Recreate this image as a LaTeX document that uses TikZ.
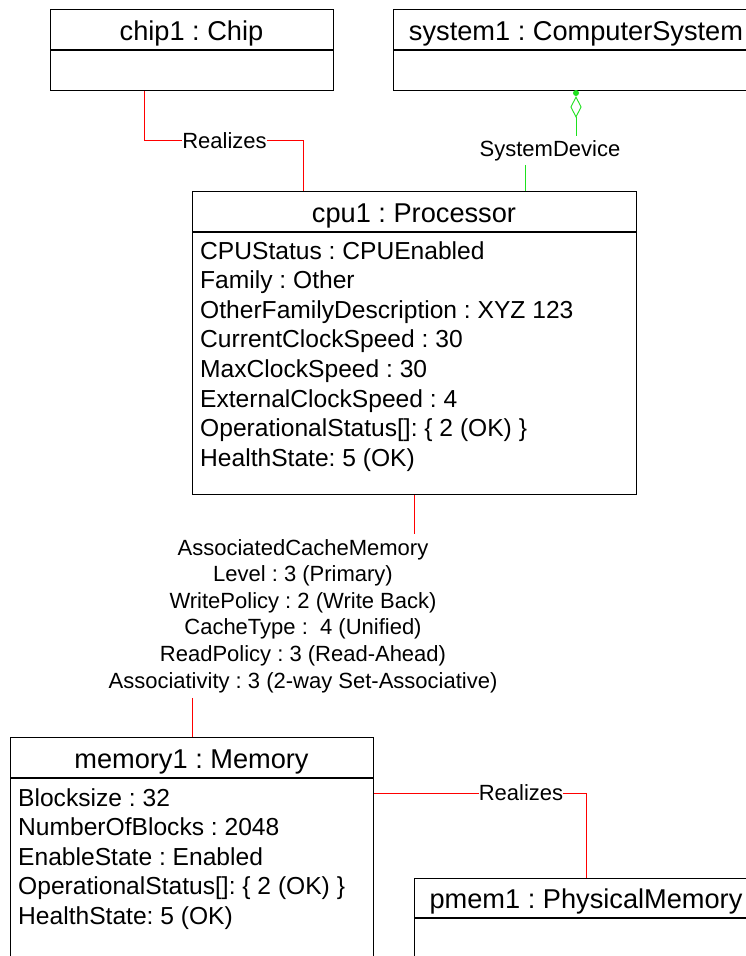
\documentclass[tikz,border=0pt]{standalone}
\usepackage{fontspec}
\setmainfont{Liberation Sans}
\usetikzlibrary{shapes.geometric}
\definecolor{linkred}{RGB}{255,0,0}
\definecolor{linkgreen}{RGB}{30,225,30}
\frenchspacing
\begin{document}
\begin{tikzpicture}[x=1pt,y=-1pt,
  box/.style={draw, line width=1.3pt, rectangle, anchor=north west, inner sep=0pt},
  divider/.style={line width=1.3pt},
  title/.style={font=\fontsize{27.2}{30}\selectfont, anchor=base, inner sep=0pt},
  attr/.style={font=\fontsize{24.6}{29}\selectfont, anchor=base west, inner sep=0pt},
  lbl/.style={font=\fontsize{22}{26.6}\selectfont, inner sep=0pt},
  realize/.style={draw=linkred, line width=1pt},
  sysdev/.style={draw=linkgreen, line width=1pt}]

\useasboundingbox (0,0) rectangle (746,956);
\clip (0,0) rectangle (746,956);

% chip1 : Chip
\node[box, minimum width=283pt, minimum height=81pt] (chip) at (50,9) {};
\draw[divider] ([yshift=-41pt]chip.north west) -- ([yshift=-41pt]chip.north east);
\node[title] (chipT) at (191.5,40) {chip1 : Chip};

% system1 : ComputerSystem
\node[box, minimum width=366pt, minimum height=81pt] (sys) at (393,9) {};
\draw[divider] ([yshift=-41pt]sys.north west) -- ([yshift=-41pt]sys.north east);
\node[title] (sysT) at (576,40) {system1 : ComputerSystem};

% cpu1 : Processor
\node[box, minimum width=444pt, minimum height=303pt] (cpu) at (192,191) {};
\draw[divider] ([yshift=-41pt]cpu.north west) -- ([yshift=-41pt]cpu.north east);
\node[title] (cpuT) at (414,222) {cpu1 : Processor};
\foreach \txt [count=\i from 0] in {CPUStatus : CPUEnabled, Family : Other,
    OtherFamilyDescription : XYZ 123, CurrentClockSpeed : 30, MaxClockSpeed : 30,
    ExternalClockSpeed : 4, {OperationalStatus[]: \{ 2 (OK) \}}, HealthState: 5 (OK)}
  \node[attr] (cpuA\i) at (200,{259+29.6*\i}) {\txt};

% memory1 : Memory
\node[box, minimum width=363pt, minimum height=240pt] (mem) at (10,737) {};
\draw[divider] ([yshift=-41pt]mem.north west) -- ([yshift=-41pt]mem.north east);
\node[title] (memT) at (191.5,768) {memory1 : Memory};
\foreach \txt [count=\i from 0] in {Blocksize : 32, NumberOfBlocks : 2048,
    EnableState : Enabled, {OperationalStatus[]: \{ 2 (OK) \}}, HealthState: 5 (OK)}
  \node[attr] (memA\i) at (18,{806+29.5*\i}) {\txt};

% pmem1 : PhysicalMemory
\node[box, minimum width=344pt, minimum height=100pt] (pmem) at (414,878) {};
\draw[divider] ([yshift=-40pt]pmem.north west) -- ([yshift=-40pt]pmem.north east);
\node[title] (pmemT) at (586,908) {pmem1 : PhysicalMemory};

% Realizes: chip1 -> cpu1
\node[lbl] (real1) at (224.5,140.5) {Realizes};
\draw[realize] ([xshift=94pt]chip.south west) |- (real1.west);
\draw[realize] (real1.east) -| ([xshift=111pt]cpu.north west);

% SystemDevice aggregation: system1 <>- cpu1
\node[circle, fill=linkgreen, inner sep=0pt, minimum size=6pt] (aggdot) at (576,93) {};
\node[diamond, draw=linkgreen, line width=0.9pt, minimum width=10.6pt,
      minimum height=20pt, inner sep=0pt] (agg) at (576,107) {};
\node[lbl, inner ysep=4pt, anchor=base] (sd) at (550,156) {SystemDevice};
\coordinate (sdx) at (525,0);
\draw[sysdev] (agg.south) -- (agg.south |- sd.north);
\draw[sysdev] (sd.south -| sdx) -- (cpu.north -| sdx);

% AssociatedCacheMemory: cpu1 -- memory1
\node[lbl, align=center, anchor=north, inner sep=5pt] (acm) at (303,534)
  {AssociatedCacheMemory\\
   Level : 3 (Primary)\\
   WritePolicy : 2 (Write Back)\\
   CacheType : \ 4 (Unified)\\
   ReadPolicy : 3 (Read-Ahead)\\
   Associativity : 3 (2-way Set-Associative)};
\draw[realize] (cpu.south) -- (cpu.south |- acm.north);
\draw[realize] (mem.north |- acm.south) -- (mem.north);

% Realizes: memory1 -> pmem1
\node[lbl] (real2) at (521,793) {Realizes};
\draw[realize] (real2.west -| mem.east) -- (real2.west);
\draw[realize] (real2.east) -| (pmem.north);
\end{tikzpicture}
\end{document}
